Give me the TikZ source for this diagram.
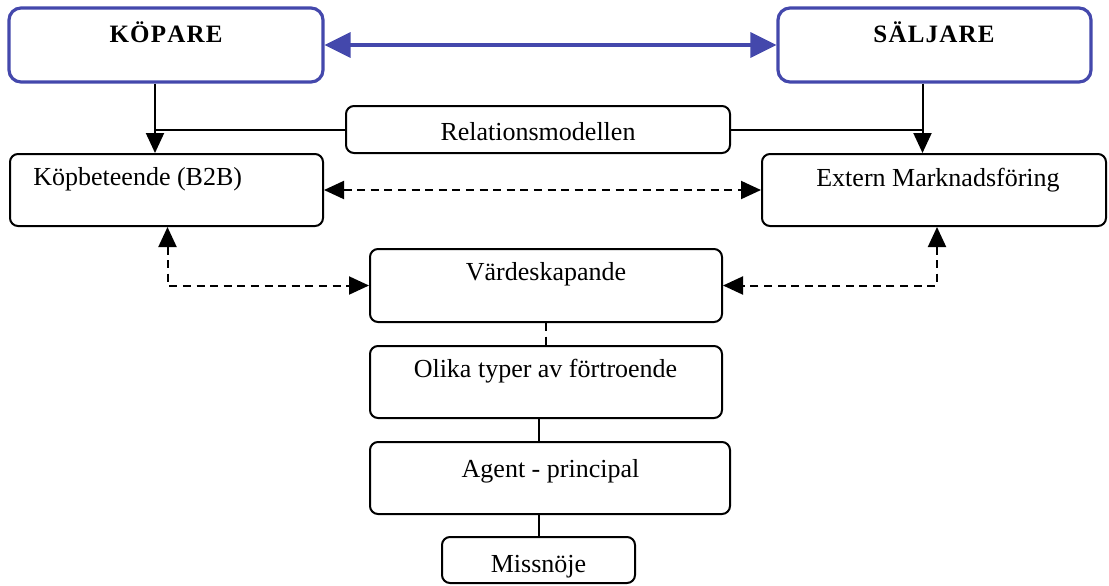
\documentclass[tikz,border=0pt]{standalone}
\usepackage{fontspec}
\setmainfont{Liberation Serif}
\usetikzlibrary{arrows.meta,positioning,calc}
\definecolor{partyblue}{RGB}{68,72,172}

\begin{document}
\begin{tikzpicture}[
    x=0.5pt, y=-0.5pt,
    box/.style={draw,rounded corners=4pt,line width=1pt,inner sep=0pt},
    party/.style={draw=partyblue,rounded corners=6pt,line width=1.6pt,inner sep=0pt},
    txt/.style={font=\fontsize{13}{15}\selectfont,inner sep=0pt,anchor=base},
    head/.style={font=\fontsize{12.5}{15}\selectfont\bfseries,inner sep=0pt,anchor=base},
    link/.style={line width=1pt},
    dashlink/.style={line width=1pt,dash pattern=on 4pt off 2.8pt},
    bluelink/.style={partyblue,line width=1.6pt,
        {Triangle[length=13pt,width=12.5pt]}-{Triangle[length=13pt,width=12.5pt]}},
    >={Triangle[length=10pt,width=9pt]}
]
\useasboundingbox (0,0) rectangle (1109,585);

% Parter
\node[party,minimum width=157pt,minimum height=37pt] (kop) at (166,45) {};
\node[party,minimum width=156.5pt,minimum height=37pt] (sal) at (934.5,45) {};
\node[head] (kop-t) at (166,42) {K\kern0.6pt Ö\kern0.6pt P\kern0.6pt A\kern0.6pt R\kern0.6pt E};
\node[head] (sal-t) at (934,42) {S\kern0.6pt Ä\kern0.6pt L\kern0.6pt J\kern0.6pt A\kern0.6pt R\kern0.6pt E};
\draw[bluelink] (kop) -- (sal);

% Relationsmodellen
\node[box,minimum width=192pt,minimum height=23.5pt] (rel) at (538,129.5) {};
\node[txt] (rel-t) at (538,140) {Relationsmodellen};

% Koepbeteende / Extern
\node[box,minimum width=156.5pt,minimum height=36pt] (kopb) at (166.5,190) {};
\node[box,minimum width=172pt,minimum height=36pt] (ext) at (934,190) {};
\node[txt,anchor=base west] (kopb-t) at (33,185) {Köpbeteende (B2B)};
\node[txt] (ext-t) at (938,186) {Extern Marknadsföring};

\coordinate (kj) at ([xshift=-5.5pt]kop.south);
\coordinate (sj) at ([xshift=-6pt]sal.south);
\draw[link,->] (kj) -- (kj |- kopb.north);
\draw[link,->] (sj) -- (sj |- ext.north);
\draw[link] (rel.west) -- (rel.west -| kj);
\draw[link] (rel.east) -- (rel.east -| sj);
\draw[dashlink,<->] (kopb) -- (ext);

% Kedjan
\node[box,minimum width=176pt,minimum height=36.5pt] (vard) at (546,285.5) {};
\node[box,minimum width=176pt,minimum height=36pt] (olika) at (546,382) {};
\node[box,minimum width=180pt,minimum height=36pt] (agent) at (550,478) {};
\node[box,minimum width=96.5pt,minimum height=23pt] (miss) at (538.5,560) {};
\node[txt] (vard-t) at (546,280) {Värdeskapande};
\node[txt] (olika-t) at (545.5,377) {Olika typer av förtroende};
\node[txt] (agent-t) at (550.5,477) {Agent - principal};
\node[txt] (miss-t) at (538.5,572) {Missnöje};

\draw[dashlink,<->] ([xshift=0.5pt]kopb.south) |- (vard.west);
\draw[dashlink,<->] ([xshift=1.5pt]ext.south) |- (vard.east);
\draw[dashlink] (vard) -- (olika);
\draw[link] (olika.south -| miss.north) -- (agent.north -| miss.north);
\draw[link] (agent.south -| miss.north) -- (miss.north);
\end{tikzpicture}
\end{document}
